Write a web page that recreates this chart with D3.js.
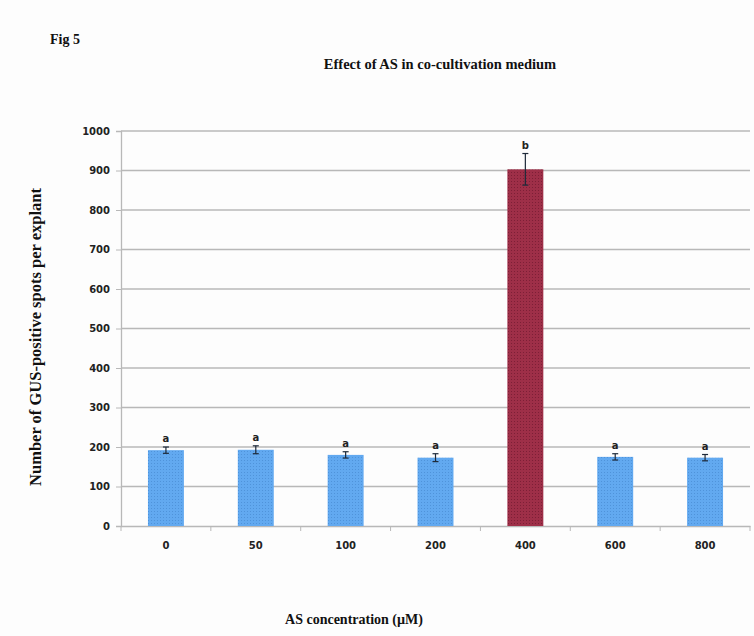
<!DOCTYPE html>
<html><head><meta charset="utf-8">
<script src="https://cdn.jsdelivr.net/npm/d3@7"></script>
<style>body{margin:0;background:#fdfdfd}</style>
</head><body>
<svg id="c" width="754" height="636"></svg>
<script>
const categories = ["0","50","100","200","400","600","800"];
const values = [192, 193, 180, 173, 903, 175, 173];
const errors = [8, 10, 8, 10, 40, 8, 8];
const letters = ["a","a","a","a","b","a","a"];
const yTicks = [0,100,200,300,400,500,600,700,800,900,1000];

const svg = d3.select("#c");
svg.append("rect").attr("width",754).attr("height",636).attr("fill","#fdfdfd");
const m = {l:121, r:750, t:131, b:526};
const x = d3.scaleBand().domain(categories).range([m.l, m.r]).paddingInner(0.6).paddingOuter(0.3);
const xb = d3.scaleBand().domain(categories).range([m.l, m.r]);
const y = d3.scaleLinear().domain([0,1000]).range([m.b, m.t]);

const defs = svg.append("defs");
function pat(id, base, dot){
  const p = defs.append("pattern").attr("id",id).attr("width",3).attr("height",3).attr("patternUnits","userSpaceOnUse");
  p.append("rect").attr("width",3).attr("height",3).attr("fill",base);
  p.append("rect").attr("x",1).attr("y",1).attr("width",1).attr("height",1).attr("fill",dot);
}
pat("pb","#62a9f0","#4f93da");
pat("pr","#9e2f48","#7d1f36");

// gridlines
svg.append("g").selectAll("line").data(yTicks.slice(1)).join("line")
  .attr("x1",m.l).attr("x2",m.r).attr("y1",d=>y(d)).attr("y2",d=>y(d))
  .attr("stroke","#b8b8b8").attr("stroke-width",1.3);

// y axis
const ya = svg.append("g").attr("transform",`translate(${m.l},0)`)
  .call(d3.axisLeft(y).tickValues(yTicks).tickFormat(d3.format("d")).tickSize(5).tickPadding(6));
ya.select(".domain").attr("stroke","#b8b8b8").attr("stroke-width",1.3);
ya.selectAll(".tick line").attr("stroke","#b8b8b8");
ya.selectAll("text").attr("font-family","DejaVu Sans").attr("font-weight","bold").attr("font-size",10).attr("fill","#222");

// x axis
const xa = svg.append("g").attr("transform",`translate(0,${m.b})`)
  .call(d3.axisBottom(xb).tickSize(0).tickPadding(16));
xa.select(".domain").attr("stroke","#b8b8b8").attr("stroke-width",1.3);
xa.selectAll("text").attr("font-family","DejaVu Sans").attr("font-weight","bold").attr("font-size",10).attr("fill","#222");
svg.append("g").selectAll("line").data(categories.concat(["end"])).join("line")
  .attr("x1",(d,i)=>m.l + xb.step()*i).attr("x2",(d,i)=>m.l + xb.step()*i)
  .attr("y1",m.b).attr("y2",m.b+5).attr("stroke","#b8b8b8");

// bars
svg.append("g").selectAll("rect").data(values).join("rect")
  .attr("x",(d,i)=>x(categories[i])).attr("width",x.bandwidth())
  .attr("y",d=>y(d)).attr("height",d=>m.b-y(d))
  .attr("fill",(d,i)=>i===4?"url(#pr)":"url(#pb)");

// error bars
const eb = svg.append("g").attr("stroke","#1e2a3a").attr("stroke-width",1.2);
values.forEach((v,i)=>{
  const cx = x(categories[i]) + x.bandwidth()/2;
  eb.append("line").attr("x1",cx).attr("x2",cx).attr("y1",y(v+errors[i])).attr("y2",y(v-errors[i]));
  eb.append("line").attr("x1",cx-3).attr("x2",cx+3).attr("y1",y(v+errors[i])).attr("y2",y(v+errors[i]));
  eb.append("line").attr("x1",cx-3).attr("x2",cx+3).attr("y1",y(v-errors[i])).attr("y2",y(v-errors[i]));
  svg.append("text").attr("x",cx).attr("y",y(v+errors[i])-5).attr("text-anchor","middle")
    .attr("font-family","DejaVu Sans").attr("font-weight","bold").attr("font-size",10).attr("fill","#222").text(letters[i]);
});

const serif = "Liberation Serif";
svg.append("text").attr("x",50).attr("y",44).attr("font-family",serif).attr("font-weight","bold").attr("font-size",14).attr("fill","#111").text("Fig 5");
svg.append("text").attr("x",440).attr("y",69).attr("text-anchor","middle").attr("font-family",serif).attr("font-weight","bold").attr("font-size",14.5).attr("fill","#111").text("Effect of AS in co-cultivation medium");
svg.append("text").attr("transform","translate(41,337) rotate(-90)").attr("text-anchor","middle").attr("font-family",serif).attr("font-weight","bold").attr("font-size",16.5).attr("fill","#111").text("Number of GUS-positive spots per explant");
svg.append("text").attr("x",354).attr("y",624).attr("text-anchor","middle").attr("font-family",serif).attr("font-weight","bold").attr("font-size",14).attr("fill","#111").text("AS concentration (µM)");
</script>
</body></html>
